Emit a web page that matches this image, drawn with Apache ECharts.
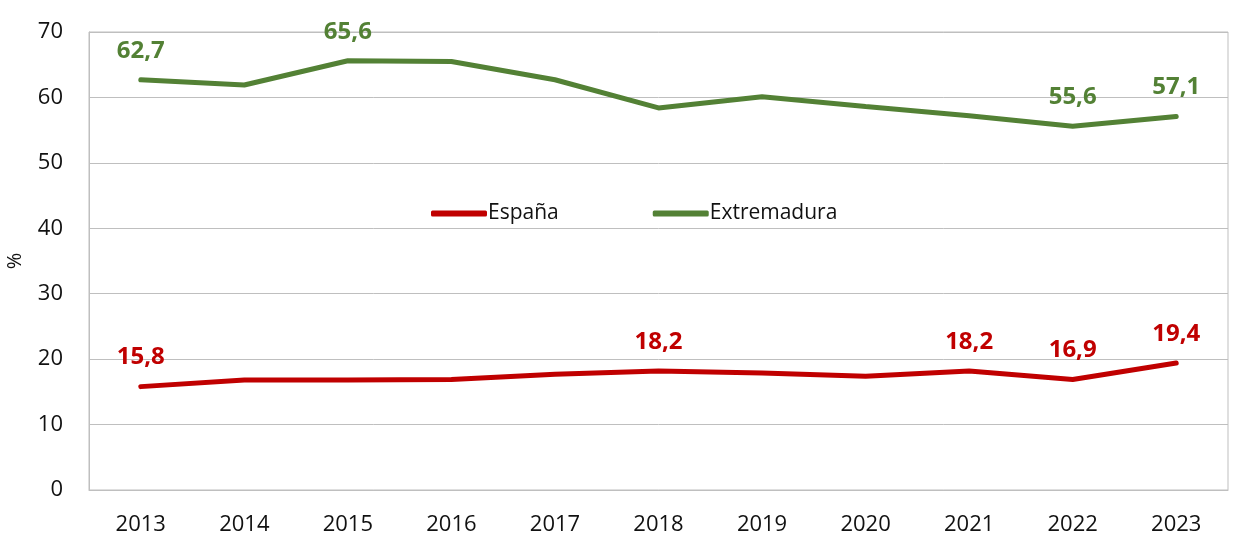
<!DOCTYPE html>
<html>
<head>
<meta charset="UTF-8">
<title>line</title>
<script type="text/javascript" src="https://cdn.jsdelivr.net/npm/echarts@6/dist/echarts.min.js"></script>
<style>
	body { margin: 0; background: #fff; }
</style>
</head>
<body>

<div id="main" style="width: 1233px; height: 542px"></div>

<script type="text/javascript">
	// datos
	var years = ['2013','2014','2015','2016','2017','2018','2019','2020','2021','2022','2023'];
	var espana = [15.8, 16.8, 16.8, 16.9, 17.7, 18.2, 17.9, 17.4, 18.2, 16.9, 19.4];
	var extremadura = [62.7, 61.9, 65.6, 65.5, 62.7, 58.4, 60.1, 58.6, 57.2, 55.6, 57.1];
	// años con etiqueta visible
	var espanaLabeled = ['2013','2018','2021','2022','2023'];
	var extremaduraLabeled = ['2013','2015','2022','2023'];

	var font = '"Open Sans", "Noto Sans", sans-serif';

	function conEtiquetas(values, labeled) {
		var out = [];
		for (var i = 0; i < values.length; i++) {
			out.push({
				value: values[i],
				label: { show: labeled.indexOf(years[i]) >= 0 }
			});
		}
		return out;
	}

	function etiqueta(color) {
		return {
			show: true,
			position: 'top',
			distance: 17,
			color: color,
			fontFamily: font,
			fontWeight: 'bold',
			fontSize: 24,
			formatter: function (p) { return String(p.value).replace('.', ','); }
		};
	}

	var mychart = echarts.init(document.getElementById('main'));
	var option = {
		animation: false,
		grid: {
			left: 89, right: 5, top: 32, bottom: 52,
			outerBoundsMode: 'none',
			containLabel: false,
			show: true, borderColor: '#bfbfbf', borderWidth: 1
		},
		legend: {
			data: ['España', 'Extremadura'],
			top: 198,
			left: 426,
			itemGap: 94,
			itemWidth: 56,
			itemHeight: 6,
			icon: 'roundRect',
			textStyle: { fontFamily: font, fontSize: 21, color: '#111', padding: [0, 0, 0, -4] }
		},
		xAxis: {
			type: 'category',
			data: years,
			axisLine: { lineStyle: { color: '#bfbfbf' } },
			axisTick: { show: false },
			axisLabel: { fontFamily: font, fontSize: 22, color: '#111', margin: 24 }
		},
		yAxis: {
			type: 'value',
			min: 0, max: 70, interval: 10,
			name: '%',
			nameLocation: 'middle',
			nameGap: 64,
			nameTextStyle: { fontFamily: font, fontSize: 20, color: '#111' },
			axisLine: { show: true, lineStyle: { color: '#bfbfbf' } },
			splitLine: { lineStyle: { color: '#bfbfbf' } },
			axisLabel: { fontFamily: font, fontSize: 22, color: '#111', margin: 26 }
		},
		series: [{
			name: 'España',
			type: 'line',
			data: conEtiquetas(espana, espanaLabeled),
			symbol: 'circle',
			symbolSize: 0,
			label: etiqueta('#c00000'),
			lineStyle: { width: 5, color: '#c00000', cap: 'round' },
			itemStyle: { color: '#c00000' }
		}, {
			name: 'Extremadura',
			type: 'line',
			data: conEtiquetas(extremadura, extremaduraLabeled),
			symbol: 'circle',
			symbolSize: 0,
			label: etiqueta('#538135'),
			lineStyle: { width: 5, color: '#538135', cap: 'round' },
			itemStyle: { color: '#538135' }
		}]
	};
	mychart.setOption(option);
</script>
</body>
</html>
